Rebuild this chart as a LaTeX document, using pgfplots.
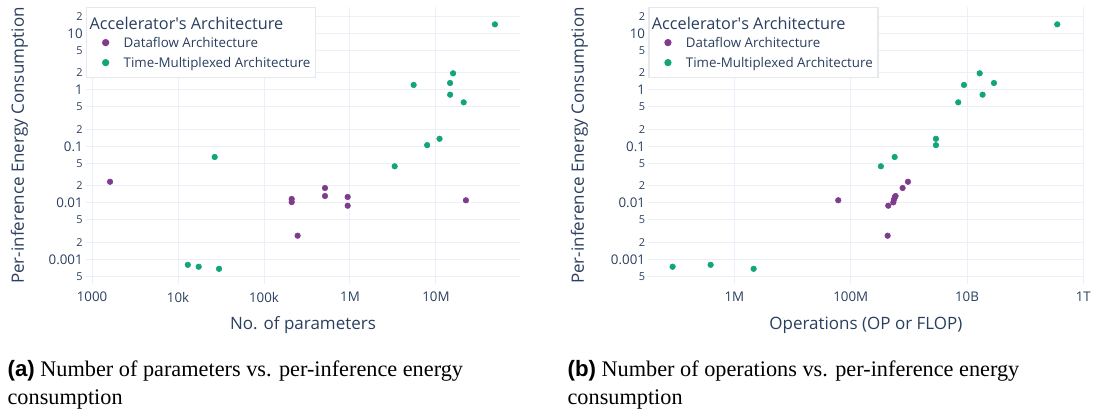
\documentclass[border=0pt]{standalone}
\usepackage{pgfplots}
\pgfplotsset{compat=1.18}
\usepackage{fontspec}
\setmainfont{Open Sans}
\newfontfamily\capserif{Liberation Serif}
\newfontfamily\capsans{Liberation Sans}

\definecolor{dataflow}{HTML}{7F3C8D}
\definecolor{timemux}{HTML}{11A579}
\definecolor{plotlytext}{HTML}{2A3F5F}
\definecolor{plotlygrid}{HTML}{EBF0F8}
\definecolor{legendframe}{HTML}{E6E8EC}

% 1px of the reference = 0.75pt
\begin{document}
\begin{tikzpicture}
\path[use as bounding box] (0pt,0pt) rectangle (822pt,-309pt);

% (a) parameters
\begin{axis}[
  at={(64.5pt,-213pt)}, anchor=south west,
  scale only axis, width=325.5pt, height=207.75pt,
  xmode=log, ymode=log,
  xmin=851, xmax=9.49e7,
  ymin=3.66e-4, ymax=29.2,
  xtick={1000,10000,100000,1000000,10000000},
  xticklabels={1000,10k,100k,1M,10M},
  ytick={0.001,0.01,0.1,1,10},
  yticklabels={0.001,0.01,0.1,1,10},
  extra y ticks={5e-4,2e-3,5e-3,2e-2,5e-2,0.2,0.5,2,5,20},
  extra y tick labels={5,2,5,2,5,2,5,2,5,2},
  extra y tick style={grid=major, tick label style={font=\fontsize{8.2}{9}\selectfont}},
  grid=major,
  major grid style={plotlygrid, line width=0.75pt},
  axis line style={draw=none},
  tick style={draw=none},
  /pgf/number format/assume math mode=true,
  tick label style={font=\fontsize{10}{12}\selectfont, text=plotlytext},
  yticklabel style={inner xsep=2.25pt},
  xticklabel style={yshift=-2.5pt},
  label style={font=\fontsize{12.75}{15}\selectfont, text=plotlytext},
  xlabel={No. of parameters},
  ylabel={Per-inference Energy Consumption},
  xlabel style={at={(axis description cs:0.5,-0.1625)}, anchor=base},
  ylabel style={at={(axis description cs:-0.143,0.5)}, anchor=base},
  legend cell align=left,
  legend style={at={(rel axis cs:0,1)}, anchor=north west,
    draw=legendframe, line width=1pt, fill=white,
    inner xsep=2pt, inner ysep=1.5pt,
    font=\fontsize{10}{12}\selectfont, text=plotlytext,
    cells={anchor=base west},
    nodes={inner xsep=2pt, inner ysep=0pt, text height=9pt, text depth=6pt},
    column sep=3.75pt, row sep=0pt},
  legend image code/.code={
    \path[draw=none, fill=none] (0pt,0pt) -- (20pt,0pt);
    \fill (12.25pt,3.6pt) circle (2.2pt);},
]
\addlegendimage{empty legend}
\addlegendentry[text height=14.5pt, text depth=4.8pt]{\hspace*{-25.5pt}\fontsize{12.2}{14}\selectfont Accelerator\textquotesingle s Architecture}
\addplot[only marks, mark=*, mark size=2.1pt, color=dataflow] coordinates {
  (1620,0.0236) (210000,0.0117) (210000,0.0103) (246000,0.00262)
  (512000,0.0183) (512000,0.0132) (940000,0.0127) (940000,0.0089)
  (22300000,0.0111)
};
\addlegendentry{Dataflow Architecture}
\addplot[only marks, mark=*, mark size=2.1pt, color=timemux] coordinates {
  (13000,0.00080) (17400,0.00074) (30000,0.00068) (26700,0.0647)
  (3310000,0.0443) (7900000,0.105) (11000000,0.136) (5500000,1.22)
  (14600000,1.32) (14600000,0.82) (15800000,1.96) (21000000,0.60)
  (48500000,14.4)
};
\addlegendentry{Time-Multiplexed Architecture}
\end{axis}

% (b) operations
\begin{axis}[
  at={(486.2pt,-213pt)}, anchor=south west,
  scale only axis, width=326.4pt, height=207.75pt,
  xmode=log, ymode=log,
  xmin=3.30e4, xmax=1.005e12,
  ymin=3.66e-4, ymax=29.2,
  xtick={1e6,1e8,1e10,1e12},
  xticklabels={1M,100M,10B,1T},
  ytick={0.001,0.01,0.1,1,10},
  yticklabels={0.001,0.01,0.1,1,10},
  extra y ticks={5e-4,2e-3,5e-3,2e-2,5e-2,0.2,0.5,2,5,20},
  extra y tick labels={5,2,5,2,5,2,5,2,5,2},
  extra y tick style={grid=major, tick label style={font=\fontsize{8.2}{9}\selectfont}},
  grid=major,
  major grid style={plotlygrid, line width=0.75pt},
  axis line style={draw=none},
  tick style={draw=none},
  /pgf/number format/assume math mode=true,
  tick label style={font=\fontsize{10}{12}\selectfont, text=plotlytext},
  yticklabel style={inner xsep=2.25pt},
  xticklabel style={yshift=-2.5pt},
  label style={font=\fontsize{12.75}{15}\selectfont, text=plotlytext},
  xlabel={Operations (OP or FLOP)},
  ylabel={Per-inference Energy Consumption},
  xlabel style={at={(axis description cs:0.5,-0.1625)}, anchor=base},
  ylabel style={at={(axis description cs:-0.1478,0.5)}, anchor=base},
  legend cell align=left,
  legend style={at={(rel axis cs:0,1)}, anchor=north west,
    draw=legendframe, line width=1pt, fill=white,
    inner xsep=2pt, inner ysep=1.5pt,
    font=\fontsize{10}{12}\selectfont, text=plotlytext,
    cells={anchor=base west},
    nodes={inner xsep=2pt, inner ysep=0pt, text height=9pt, text depth=6pt},
    column sep=3.75pt, row sep=0pt},
  legend image code/.code={
    \path[draw=none, fill=none] (0pt,0pt) -- (20pt,0pt);
    \fill (12.25pt,3.6pt) circle (2.2pt);},
]
\addlegendimage{empty legend}
\addlegendentry[text height=14.5pt, text depth=4.8pt]{\hspace*{-25.5pt}\fontsize{12.2}{14}\selectfont Accelerator\textquotesingle s Architecture}
\addplot[only marks, mark=*, mark size=2.1pt, color=dataflow] coordinates {
  (61e6,0.0111) (431e6,0.00262) (442e6,0.0089) (540e6,0.0102)
  (555e6,0.0115) (575e6,0.0127) (590e6,0.0132) (780e6,0.0183)
  (964e6,0.0236)
};
\addlegendentry{Dataflow Architecture}
\addplot[only marks, mark=*, mark size=2.1pt, color=timemux] coordinates {
  (86500,0.00074) (390000,0.00080) (2140000,0.00068) (569e6,0.0647)
  (330e6,0.0443) (2.92e9,0.105) (2.92e9,0.136) (8.85e9,1.22)
  (29e9,1.32) (18.5e9,0.82) (16.5e9,1.96) (7.06e9,0.60)
  (356e9,14.4)
};
\addlegendentry{Time-Multiplexed Architecture}
\end{axis}

% sub-captions
\node[anchor=base west, inner sep=0pt, font=\fontsize{16.7}{20}\capserif]
  at (5.5pt,-282.5pt) {{\capsans\bfseries (a)} Number of parameters vs. per-inference energy};
\node[anchor=base west, inner sep=0pt, font=\fontsize{16.7}{20}\capserif]
  at (5.5pt,-303pt) {consumption};
\node[anchor=base west, inner sep=0pt, font=\fontsize{16.7}{20}\capserif]
  at (425.5pt,-282.5pt) {{\capsans\bfseries (b)} Number of operations vs. per-inference energy};
\node[anchor=base west, inner sep=0pt, font=\fontsize{16.7}{20}\capserif]
  at (425.5pt,-303pt) {consumption};
\end{tikzpicture}
\end{document}
